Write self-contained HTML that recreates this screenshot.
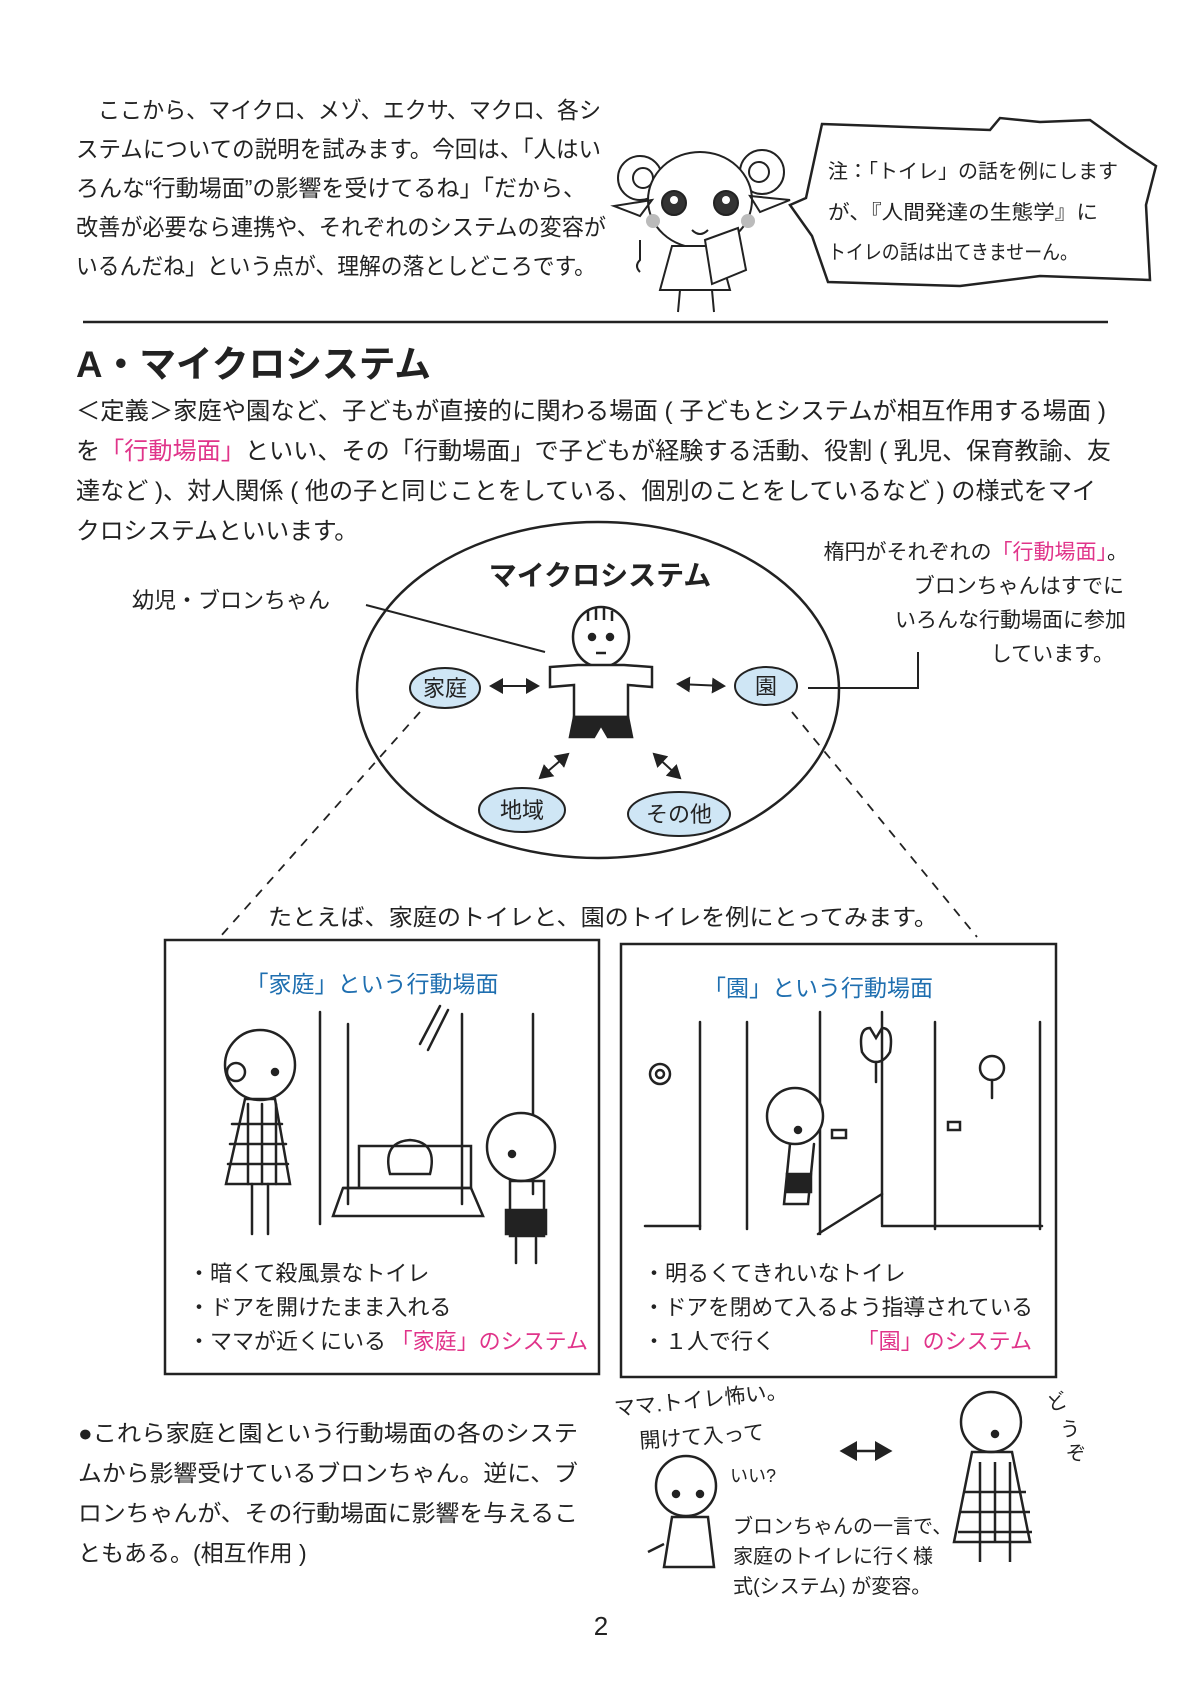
<!DOCTYPE html>
<html><head><meta charset="utf-8"><style>
html,body{margin:0;padding:0;background:#fff;}
svg{display:block}
text{font-family:"Liberation Sans","Noto Sans CJK JP",sans-serif;fill:#222}
.b{font-size:23px}
.p{fill:#e0348a}
.bl{fill:#1f6fb0}
</style></head><body>
<svg width="1191" height="1684" viewBox="0 0 1191 1684" xmlns="http://www.w3.org/2000/svg">
<g class="b">
<text x="76" y="118" textLength="525" lengthAdjust="spacingAndGlyphs">　ここから、マイクロ、メゾ、エクサ、マクロ、各シ</text>
<text x="76" y="157" textLength="525" lengthAdjust="spacingAndGlyphs">ステムについての説明を試みます。今回は、「人はい</text>
<text x="76" y="196" textLength="510" lengthAdjust="spacingAndGlyphs">ろんな“行動場面”の影響を受けてるね」「だから、</text>
<text x="76" y="235" textLength="530" lengthAdjust="spacingAndGlyphs">改善が必要なら連携や、それぞれのシステムの変容が</text>
<text x="76" y="274" textLength="520" lengthAdjust="spacingAndGlyphs">いるんだね」という点が、理解の落としどころです。</text>
</g>
<!-- mascot -->
<g fill="none" stroke="#222" stroke-width="2">
<circle cx="640" cy="178" r="22"/><circle cx="643" cy="178" r="10"/>
<circle cx="762" cy="172" r="22"/><circle cx="759" cy="172" r="10"/>
<ellipse cx="700" cy="200" rx="52" ry="48" fill="#fff"/>
<path d="M652 200 L614 206 L640 216 Z"/><path d="M750 196 L790 200 L760 212 Z"/>
<circle cx="674" cy="203" r="12" fill="#333"/><circle cx="726" cy="203" r="12" fill="#333"/>
<circle cx="674" cy="200" r="4" fill="#fff" stroke="none"/><circle cx="726" cy="200" r="4" fill="#fff" stroke="none"/>
<circle cx="653" cy="221" r="7" fill="#bbb" stroke="none"/><circle cx="748" cy="221" r="7" fill="#bbb" stroke="none"/>
<path d="M692 230 q8 8 16 0"/>
<path d="M672 246 L660 290 L730 290 L718 246 Z" fill="#fff"/>
<path d="M705 240 L738 228 L746 270 L712 284 Z" fill="#fff"/>
<path d="M680 290 L678 312 M712 290 L714 312"/>
<path d="M640 240 v20 q-6 6 0 12"/>
</g>
<path d="M822 124 L990 130 L1000 118 L1040 122 L1090 120 L1126 146 L1156 166 L1146 205 L1150 280 L1040 276 L960 286 L828 282 L812 236 L790 205 L806 198 Z" fill="#fff" stroke="#222" stroke-width="2.5"/>
<g style="font-size:20px">
<text x="828" y="178" textLength="290" lengthAdjust="spacingAndGlyphs">注：「トイレ」の話を例にします</text>
<text x="828" y="219" textLength="270" lengthAdjust="spacingAndGlyphs">が、『人間発達の生態学』に</text>
<text x="828" y="259" textLength="250" lengthAdjust="spacingAndGlyphs">トイレの話は出てきませーん。</text>
</g>
<line x1="83" y1="322" x2="1108" y2="322" stroke="#222" stroke-width="2.5"/>
<text x="76" y="377" style="font-size:37px;font-weight:bold" textLength="355" lengthAdjust="spacingAndGlyphs">A・マイクロシステム</text>
<g style="font-size:24px">
<text x="76" y="419" textLength="1030" lengthAdjust="spacingAndGlyphs">＜定義＞家庭や園など、子どもが直接的に関わる場面 ( 子どもとシステムが相互作用する場面 )</text>
<text x="76" y="459" textLength="1035" lengthAdjust="spacingAndGlyphs">を<tspan class="p">「行動場面」</tspan>といい、その「行動場面」で子どもが経験する活動、役割 ( 乳児、保育教諭、友</text>
<text x="76" y="499" textLength="1020" lengthAdjust="spacingAndGlyphs">達など )、対人関係 ( 他の子と同じことをしている、個別のことをしているなど ) の様式をマイ</text>
<text x="76" y="539" textLength="282" lengthAdjust="spacingAndGlyphs">クロシステムといいます。</text>
</g>
<ellipse cx="598" cy="690" rx="241" ry="168" fill="none" stroke="#222" stroke-width="2.5"/>
<text x="600" y="585" text-anchor="middle" style="font-size:28px;font-weight:bold">マイクロシステム</text>
<text x="132" y="608" style="font-size:22px">幼児・ブロンちゃん</text>
<line x1="366" y1="605" x2="545" y2="652" stroke="#222" stroke-width="2"/>
<g style="font-size:21px">
<text x="1128" y="559" text-anchor="end">楕円がそれぞれの<tspan class="p">「行動場面」</tspan>。</text>
<text x="1124" y="593" text-anchor="end">ブロンちゃんはすでに</text>
<text x="1126" y="627" text-anchor="end">いろんな行動場面に参加</text>
<text x="1114" y="661" text-anchor="end">しています。</text>
</g>
<polyline points="808,688 918,688 918,652" fill="none" stroke="#222" stroke-width="2"/>
<g fill="none" stroke="#222" stroke-width="2.5">
<ellipse cx="601" cy="637" rx="28" ry="30" fill="#fff"/>
<path d="M588 611 v10 M596 608 v12 M604 608 v12 M612 611 v10"/>
<circle cx="592" cy="637" r="3" fill="#222"/><circle cx="610" cy="637" r="3" fill="#222"/>
<line x1="596" y1="653" x2="606" y2="653"/>
<path d="M578 665 L550 667 L550 687 L574 685 L574 717 L628 717 L628 685 L652 687 L652 667 L624 665 Z" fill="#fff"/>
<path d="M574 717 L570 737 L594 737 L601 725 L608 737 L632 737 L628 717 Z" fill="#222"/>
</g>
<g fill="#cfe6f5" stroke="#222" stroke-width="2">
<ellipse cx="445" cy="688" rx="35" ry="20"/>
<ellipse cx="766" cy="686" rx="31" ry="19"/>
<ellipse cx="522" cy="810" rx="43" ry="22"/>
<ellipse cx="679" cy="814" rx="51" ry="22"/>
</g>
<g style="font-size:22px" text-anchor="middle">
<text x="445" y="696">家庭</text><text x="766" y="694">園</text>
<text x="522" y="818">地域</text><text x="679" y="822">その他</text>
</g>
<defs><marker id="a" markerWidth="8" markerHeight="8" refX="6" refY="4" orient="auto-start-reverse"><path d="M0,0 L7,4 L0,8 Z" fill="#222"/></marker></defs>
<g stroke="#222" stroke-width="2" marker-start="url(#a)" marker-end="url(#a)">
<line x1="491" y1="686" x2="538" y2="686"/>
<line x1="678" y1="684" x2="724" y2="686"/>
<line x1="568" y1="754" x2="540" y2="778"/>
<line x1="654" y1="754" x2="680" y2="778"/>
</g>
<g stroke="#222" stroke-width="1.8" stroke-dasharray="9,8">
<line x1="420" y1="712" x2="220" y2="937"/>
<line x1="792" y1="712" x2="977" y2="937"/>
</g>
<text x="603" y="925" text-anchor="middle" style="font-size:23px" textLength="670" lengthAdjust="spacingAndGlyphs">たとえば、家庭のトイレと、園のトイレを例にとってみます。</text>
<rect x="165" y="940" width="434" height="434" fill="none" stroke="#222" stroke-width="2.5"/>
<rect x="621" y="944" width="435" height="433" fill="none" stroke="#222" stroke-width="2.5"/>
<text x="372" y="992" text-anchor="middle" class="bl" style="font-size:23px">「家庭」という行動場面</text>
<text x="818" y="996" text-anchor="middle" class="bl" style="font-size:23px">「園」という行動場面</text>
<g transform="translate(0,-6)">
<g fill="none" stroke="#222" stroke-width="2.5" stroke-linecap="round">
<line x1="320" y1="1018" x2="320" y2="1230"/><line x1="348" y1="1030" x2="348" y2="1210"/>
<line x1="462" y1="1020" x2="462" y2="1210"/><line x1="533" y1="1020" x2="533" y2="1200"/>
<line x1="440" y1="1012" x2="420" y2="1050"/><line x1="448" y1="1016" x2="428" y2="1056"/>
<path d="M343 1194 h128 v-42 h-112 v42 z"/><path d="M333 1222 h150 l-12 -28 h-128 z"/>
<path d="M390 1180 q-8 -32 20 -34 q28 2 20 34 z"/>
<circle cx="260" cy="1071" r="35" fill="#fff"/><circle cx="236" cy="1078" r="9"/>
<circle cx="275" cy="1078" r="3" fill="#222"/>
<path d="M245 1105 L226 1190 L290 1190 L275 1105 Z"/>
<path d="M232 1130 h50 M230 1150 h56 M228 1170 h60 M248 1110 v80 M262 1110 v80 M276 1110 v80"/>
<path d="M252 1190 v50 M268 1190 v50"/>
<circle cx="521" cy="1153" r="34" fill="#fff"/><circle cx="512" cy="1160" r="3" fill="#222"/>
<path d="M510 1187 v55 h34 v-55 z"/><rect x="506" y="1216" width="40" height="24" fill="#222"/>
<path d="M516 1244 v25 M536 1244 v25"/>
</g>
<g fill="none" stroke="#222" stroke-width="2.5" stroke-linecap="round">
<line x1="700" y1="1028" x2="700" y2="1235"/><line x1="747" y1="1028" x2="747" y2="1235"/>
<line x1="820" y1="1018" x2="820" y2="1240"/><line x1="882" y1="1018" x2="882" y2="1230"/>
<line x1="935" y1="1028" x2="935" y2="1235"/><line x1="1040" y1="1028" x2="1040" y2="1235"/>
<line x1="645" y1="1232" x2="700" y2="1232"/><line x1="882" y1="1232" x2="1042" y2="1232"/>
<path d="M818 1240 L882 1200"/>
<circle cx="660" cy="1080" r="10"/><circle cx="660" cy="1080" r="4"/>
<path d="M862 1058 q-4 -24 8 -24 l6 10 l6 -10 q12 0 8 24 q-6 10 -14 10 q-8 0 -14 -10 z"/><path d="M876 1068 v20"/>
<circle cx="992" cy="1074" r="12"/><path d="M992 1086 v18"/>
<rect x="832" y="1136" width="14" height="8"/><rect x="948" y="1128" width="12" height="8"/>
<circle cx="795" cy="1122" r="28" fill="#fff"/><circle cx="798" cy="1136" r="3" fill="#222"/>
<path d="M790 1150 l-6 60 h24 l6 -60"/><rect x="787" y="1180" width="24" height="18" fill="#222"/>
</g>
</g>
<g style="font-size:22px">
<text x="188" y="1281">・暗くて殺風景なトイレ</text>
<text x="188" y="1315">・ドアを開けたまま入れる</text>
<text x="188" y="1349">・ママが近くにいる</text>
<text x="588" y="1349" text-anchor="end" class="p">「家庭」のシステム</text>
<text x="643" y="1281">・明るくてきれいなトイレ</text>
<text x="643" y="1315" textLength="390" lengthAdjust="spacingAndGlyphs">・ドアを閉めて入るよう指導されている</text>
<text x="643" y="1349">・１人で行く</text>
<text x="1032" y="1349" text-anchor="end" class="p">「園」のシステム</text>
</g>
<g style="font-size:23px">
<text x="78" y="1441" textLength="500" lengthAdjust="spacingAndGlyphs">●これら家庭と園という行動場面の各のシステ</text>
<text x="78" y="1481" textLength="500" lengthAdjust="spacingAndGlyphs">ムから影響受けているブロンちゃん。逆に、ブ</text>
<text x="78" y="1521" textLength="500" lengthAdjust="spacingAndGlyphs">ロンちゃんが、その行動場面に影響を与えるこ</text>
<text x="78" y="1561">ともある。(相互作用 )</text>
</g>
<g transform="translate(0,-8)">
<g style="font-size:21px">
<text x="615" y="1424" transform="rotate(-6 615 1424)">ママ.トイレ怖い。</text>
<text x="640" y="1456" transform="rotate(-4 640 1456)">開けて入って</text>
<text x="730" y="1490" style="font-size:18px">いい?</text>
<text x="733" y="1541" style="font-size:20px">ブロンちゃんの一言で、</text>
<text x="733" y="1571" style="font-size:20px">家庭のトイレに行く様</text>
<text x="733" y="1601" style="font-size:20px">式(システム) が変容。</text>
<text x="1050" y="1420" style="font-size:20px" transform="rotate(-20 1050 1420)">ど</text>
<text x="1060" y="1444" style="font-size:20px">う</text>
<text x="1066" y="1468" style="font-size:20px">ぞ</text>
</g>
<g stroke="#222" stroke-width="2.5" fill="none" marker-start="url(#a)" marker-end="url(#a)"><line x1="842" y1="1459" x2="890" y2="1459"/></g>
<g fill="none" stroke="#222" stroke-width="2.5">
<circle cx="686" cy="1494" r="30" fill="#fff"/><circle cx="676" cy="1502" r="3" fill="#222"/><circle cx="700" cy="1502" r="3" fill="#222"/>
<path d="M672 1525 l-8 50 h50 l-6 -50 z"/><path d="M664 1552 l-16 8"/>
<circle cx="991" cy="1430" r="30" fill="#fff"/><circle cx="995" cy="1442" r="3" fill="#222"/>
<path d="M972 1460 l-18 90 h76 l-18 -90 z"/>
<path d="M964 1500 h62 M960 1520 h70 M958 1540 h74 M980 1470 v80 M995 1470 v80 M1010 1470 v80"/>
<path d="M980 1550 v20 M1010 1550 v20"/>
</g>
</g>
<text x="601" y="1635" text-anchor="middle" style="font-size:26px">2</text>
</svg>
</body></html>
